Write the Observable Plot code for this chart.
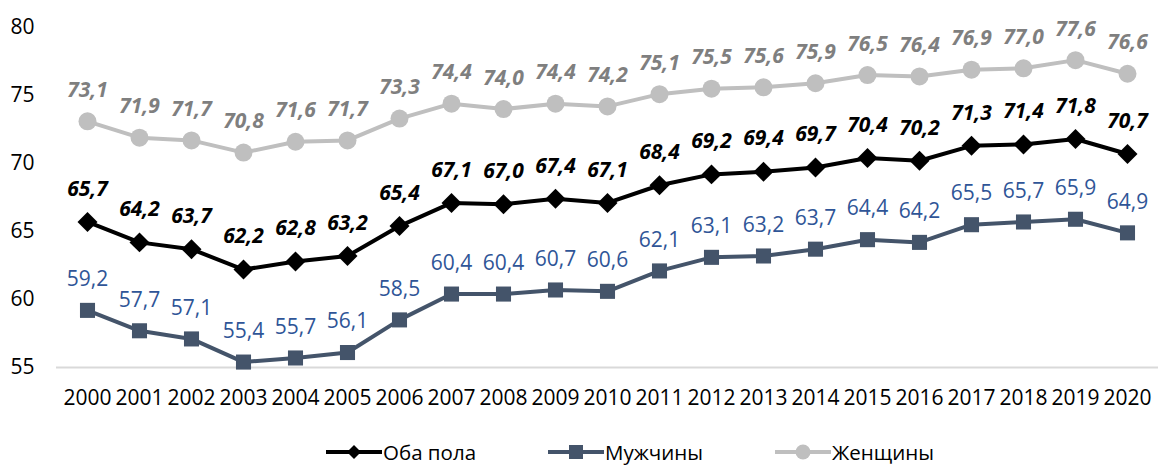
<!DOCTYPE html>
<html>
<head>
<meta charset="utf-8">
<script src="https://cdn.jsdelivr.net/npm/d3@7"></script>
<script src="https://cdn.jsdelivr.net/npm/@observablehq/plot@0.6"></script>
<style>
  html, body { margin: 0; padding: 0; background: #fff; }
  body { width: 1158px; height: 465px; overflow: hidden; font-family: "Open Sans", sans-serif; }
  #legend { display: flex; justify-content: flex-start; align-items: center; height: 35px; margin-top: 2px; padding-left: 326px; font-size: 20.5px; color: #000; }
  #legend .item { display: flex; align-items: center; margin-right: 72px; }
  #legend svg { margin-right: 1px; }
</style>
</head>
<body>
<div id="chart"></div>
<div id="legend"></div>
<script>
const years = ["2000","2001","2002","2003","2004","2005","2006","2007","2008","2009","2010","2011","2012","2013","2014","2015","2016","2017","2018","2019","2020"];
const both  = [65.7,64.2,63.7,62.2,62.8,63.2,65.4,67.1,67.0,67.4,67.1,68.4,69.2,69.4,69.7,70.4,70.2,71.3,71.4,71.8,70.7];
const men   = [59.2,57.7,57.1,55.4,55.7,56.1,58.5,60.4,60.4,60.7,60.6,62.1,63.1,63.2,63.7,64.4,64.2,65.5,65.7,65.9,64.9];
const women = [73.1,71.9,71.7,70.8,71.6,71.7,73.3,74.4,74.0,74.4,74.2,75.1,75.5,75.6,75.9,76.5,76.4,76.9,77.0,77.6,76.6];
const seriesNames = ["Оба пола", "Мужчины", "Женщины"];
const yTicks = [55, 60, 65, 70, 75, 80];

const rows = (vals) => years.map((y, i) => ({year: y, value: vals[i]}));
const dBoth = rows(both), dMen = rows(men), dWomen = rows(women);
const fmt = v => v.toFixed(1).replace(".", ",");

const C = {
  both: "#000000",
  men: "#44546A", menText: "#2F5597",
  women: "#BFBFBF", womenText: "#7F7F7F"
};

const chart = Plot.plot({
  width: 1158,
  height: 432,
  marginLeft: 56,
  marginRight: 0,
  marginTop: 27,
  marginBottom: 65,
  style: { fontFamily: "Open Sans, sans-serif", fontSize: "21px", color: "#000", background: "#fff" },
  x: { type: "point", domain: years, padding: 0.5, label: null, tickSize: 0, tickPadding: 23 },
  y: { domain: [55, 80], ticks: yTicks, label: null, tickSize: 0, tickPadding: 22 },
  marks: [
    Plot.ruleY([55], { stroke: "#D9D9D9", strokeWidth: 2 }),
    Plot.line(dWomen, { x: "year", y: "value", stroke: C.women, strokeWidth: 4 }),
    Plot.dot(dWomen, { x: "year", y: "value", fill: C.women, r: 9, symbol: "circle" }),
    Plot.line(dBoth, { x: "year", y: "value", stroke: C.both, strokeWidth: 4 }),
    Plot.dot(dBoth, { x: "year", y: "value", fill: C.both, r: 9, symbol: "diamond2" }),
    Plot.line(dMen, { x: "year", y: "value", stroke: C.men, strokeWidth: 4 }),
    Plot.dot(dMen, { x: "year", y: "value", fill: C.men, r: 8.5, symbol: "square" }),
    Plot.text(dWomen, { x: "year", y: "value", text: d => fmt(d.value), dy: -31, fill: C.womenText, fontWeight: "bold", fontStyle: "italic", fontSize: 21 }),
    Plot.text(dBoth, { x: "year", y: "value", text: d => fmt(d.value), dy: -33, fill: C.both, fontWeight: "bold", fontStyle: "italic", fontSize: 21 }),
    Plot.text(dMen, { x: "year", y: "value", text: d => fmt(d.value), dy: -31, fill: C.menText, fontSize: 21 })
  ]
});
document.getElementById("chart").appendChild(chart);

// legend
const legendSpecs = [
  { name: seriesNames[0], stroke: C.both, symbol: "diamond" },
  { name: seriesNames[1], stroke: C.men, symbol: "square" },
  { name: seriesNames[2], stroke: C.women, symbol: "circle" }
];
const legend = document.getElementById("legend");
for (const s of legendSpecs) {
  const item = document.createElement("div");
  item.className = "item";
  let marker;
  if (s.symbol === "diamond") marker = `<path d="M28,3 L35,10 L28,17 L21,10 Z" fill="${s.stroke}"/>`;
  else if (s.symbol === "square") marker = `<rect x="21" y="3" width="14" height="14" fill="${s.stroke}"/>`;
  else marker = `<circle cx="28" cy="10" r="7.5" fill="${s.stroke}"/>`;
  item.innerHTML = `<svg width="56" height="20"><line x1="0" y1="10" x2="56" y2="10" stroke="${s.stroke}" stroke-width="4"/>${marker}</svg><span>${s.name}</span>`;
  legend.appendChild(item);
}
</script>
</body>
</html>
